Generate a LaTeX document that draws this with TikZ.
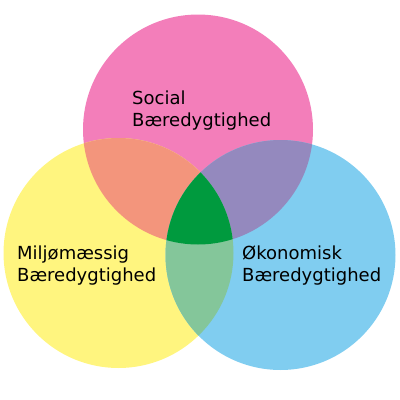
\documentclass[tikz,border=0pt]{standalone}
\usepackage{fontspec}
\setmainfont{DejaVu Sans}
\definecolor{pinkc}{HTML}{F37EBA}
\definecolor{yellowc}{HTML}{FFF57F}
\definecolor{bluec}{HTML}{80CDF0}
\definecolor{pyc}{HTML}{F3957C}
\definecolor{pbc}{HTML}{9489BE}
\definecolor{ybc}{HTML}{84C69A}
\definecolor{centerc}{HTML}{009A3E}
\begin{document}
\begin{tikzpicture}[x=1pt,y=-1pt,
  lbl/.style={anchor=base west,inner sep=0pt,align=left,font=\fontsize{18}{22.7}\selectfont,text=black}]
\useasboundingbox (0,0) rectangle (400,400);
\def\R{115}
\coordinate (S) at (198,129.5);
\coordinate (M) at (118.5,253);
\coordinate (O) at (280.5,255);
\fill[pinkc] (S) circle (\R);
\fill[yellowc] (M) circle (\R);
\fill[bluec] (O) circle (\R);
\begin{scope}
  \clip (S) circle (\R);
  \fill[pyc] (M) circle (\R);
  \fill[pbc] (O) circle (\R);
\end{scope}
\begin{scope}
  \clip (M) circle (\R);
  \fill[ybc] (O) circle (\R);
  \clip (O) circle (\R);
  \fill[centerc] (S) circle (\R);
\end{scope}
\node[lbl] (social) at (132,126.7) {Social\\Bæredygtighed};
\node[lbl] (milj) at (17,281.7) {Miljømæssig\\Bæredygtighed};
\node[lbl] (oko) at (242,281.7) {Økonomisk\\Bæredygtighed};
\end{tikzpicture}
\end{document}
